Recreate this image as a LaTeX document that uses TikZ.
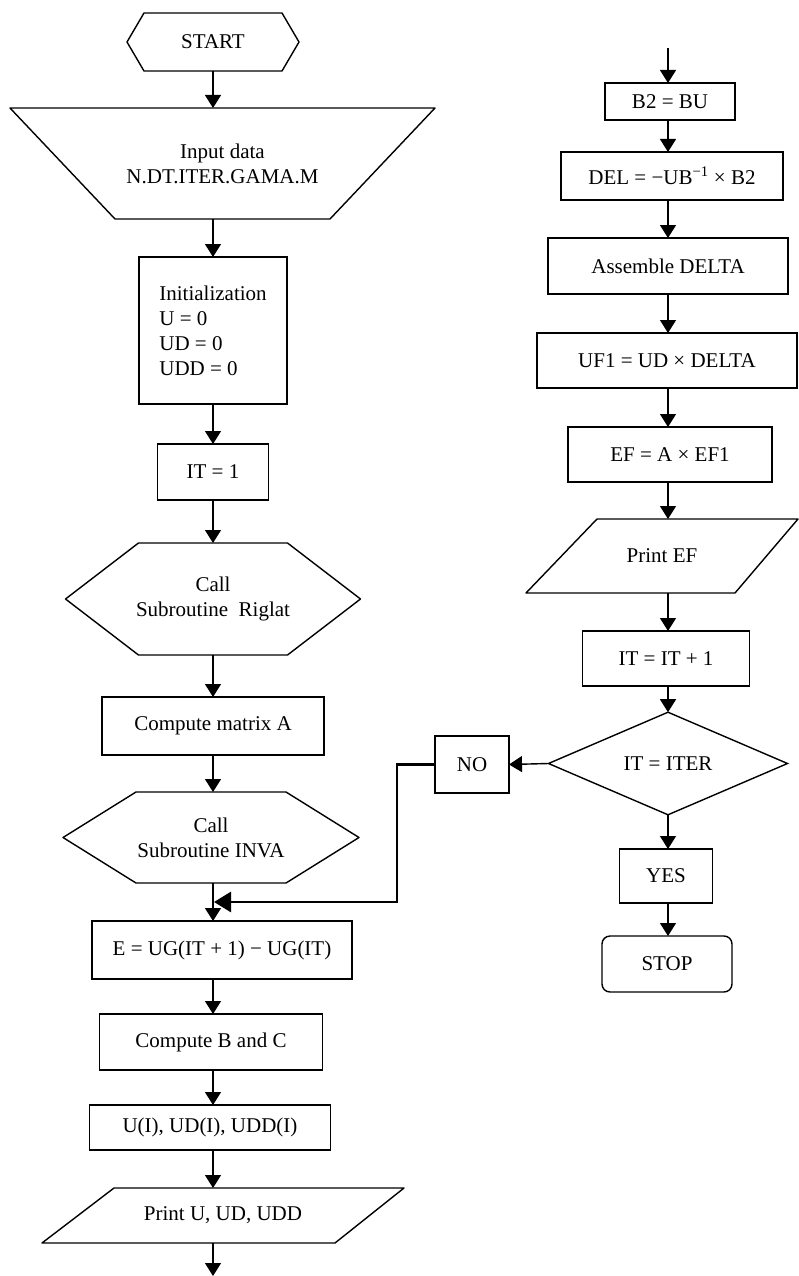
\documentclass[tikz,border=0pt]{standalone}
\usepackage{fontspec}
\setmainfont{Liberation Serif}
\usetikzlibrary{arrows.meta,shapes.geometric}
% outline of a call/start node: #1 node name, #2 size of the cut
\newcommand\hexline[2]{\draw[line width=1.4pt,line join=round](#1.west)--([xshift=#2]#1.north west)--([xshift=-#2]#1.north east)--(#1.east)--([xshift=-#2]#1.south east)--([xshift=#2]#1.south west)--cycle;}
% outline of an input/output node: insets of the top left, top right, bottom right, bottom left corners
\newcommand\quadline[5]{\draw[line width=1.4pt,line join=round]([xshift=#2]#1.north west)--([xshift=-#3]#1.north east)--([xshift=-#4]#1.south east)--([xshift=#5]#1.south west)--cycle;}

\begin{document}
\begin{tikzpicture}[x=1pt,y=-1pt,
 every node/.style={font=\fontsize{21}{25}\selectfont,inner sep=0pt,outer sep=0pt},
 box/.style={draw,line width=1.4pt},
 flow/.style={line width=1.4pt,-{Triangle[length=13pt,width=16pt]}},
 back/.style={line width=2.8pt,-{Triangle[length=17pt,width=20pt]}}]
 \useasboundingbox(0,0)rectangle(799,1276);
 % left column
 \node[minimum width=172pt,minimum height=58pt](start)at(213,42){START};
 \hexline{start}{17}
 \node[minimum width=425pt,minimum height=111pt,align=center](input)at(222.5,163.5){Input data\\N.DT.ITER.GAMA.M};
 \quadline{input}{0}{0}{105}{105}
 \node[box,minimum width=148pt,minimum height=147pt,align=left](init)at(213,330.5){Initialization\\U = 0\\UD = 0\\UDD = 0};
 \node[box,minimum width=111pt,minimum height=56pt](it1)at(213,472){IT = 1};
 \node[minimum width=295pt,minimum height=112pt,align=center](riglat)at(213,599){Call\\Subroutine~ Riglat};
 \hexline{riglat}{73}
 \node[box,minimum width=222pt,minimum height=58pt](mata)at(213,726){Compute matrix A};
 \node[minimum width=296pt,minimum height=91pt,align=center](inva)at(211,837.5){Call\\Subroutine INVA};
 \hexline{inva}{73}
 \node[box,minimum width=260pt,minimum height=58pt](econ)at(222,950){E = UG(IT + 1) − UG(IT)};
 \node[box,minimum width=223pt,minimum height=56pt](bc)at(211,1042){Compute B and C};
 \node[box,minimum width=241pt,minimum height=45pt](ui)at(210,1127.5){U(I), UD(I), UDD(I)};
 \node[minimum width=362pt,minimum height=55pt](printu)at(223,1215.5){Print U, UD, UDD};
 \quadline{printu}{72}{0}{69}{0}
 \coordinate(lend)at(213,1276);
 % right column
 \coordinate(rtop)at(668,48);
 \node[box,minimum width=130pt,minimum height=37pt](b2)at(670,101.5){B2 = BU};
 \node[box,minimum width=222pt,minimum height=48pt](del)at(672,176){DEL = −UB\textsuperscript{−1} × B2};
 \node[box,minimum width=240pt,minimum height=56pt](asm)at(668,266){Assemble DELTA};
 \node[box,minimum width=260pt,minimum height=55pt](uf1)at(667,360.5){UF1 = UD × DELTA};
 \node[box,minimum width=204pt,minimum height=55pt](ef)at(670,454.5){EF = A × EF1};
 \node[minimum width=272pt,minimum height=74pt](printef)at(662,556){Print EF};
 \quadline{printef}{71}{0}{63}{0}
 \node[box,minimum width=167pt,minimum height=55pt](itinc)at(666,658.5){IT = IT + 1};
 \node[box,diamond,minimum width=239pt,minimum height=93pt](test)at(668,763.5){IT = ITER};
 \node[box,minimum width=74pt,minimum height=57pt](no)at(472,764.5){NO};
 \node[box,minimum width=93pt,minimum height=54pt](yes)at(666,876){YES};
 \node[box,rounded corners=8pt,minimum width=130pt,minimum height=56pt](stop)at(667,964){STOP};
 \coordinate(bend)at(397,902);
 \coordinate(join)at(214,902);
 % connectors
 \draw[flow](start.south)--(start.south|-input.north);
 \draw[flow](init|-input.south)--(init.north);
 \draw[flow](init.south)--(it1.north);
 \draw[flow](it1.south)--(riglat.north-|it1);
 \draw[flow](riglat.south-|it1)--(mata.north);
 \draw[flow](mata.south)--(inva.north-|mata);
 \draw[flow](inva.south-|mata)--(econ.north-|mata);
 \draw[flow](econ.south-|mata)--(bc.north-|mata);
 \draw[flow](bc.south-|mata)--(ui.north-|mata);
 \draw[flow](ui.south-|mata)--(printu.north-|mata);
 \draw[flow](printu.south-|mata)--(lend);
 \draw[flow](rtop)--(rtop|-b2.north);
 \draw[flow](b2.south-|rtop)--(del.north-|rtop);
 \draw[flow](del.south-|rtop)--(asm.north-|rtop);
 \draw[flow](asm.south-|rtop)--(uf1.north-|rtop);
 \draw[flow](uf1.south-|rtop)--(ef.north-|rtop);
 \draw[flow](ef.south-|rtop)--(printef.north-|rtop);
 \draw[flow](printef.south-|rtop)--(itinc.north-|rtop);
 \draw[flow](itinc.south-|rtop)--(test.north);
 \draw[flow](test.west)--(no.east);
 \draw[flow](test.south)--(yes.north-|test);
 \draw[flow](yes.south-|test)--(stop.north-|test);
 \draw[back,line join=miter](no.west)-|(bend)--(join);
\end{tikzpicture}
\end{document}
